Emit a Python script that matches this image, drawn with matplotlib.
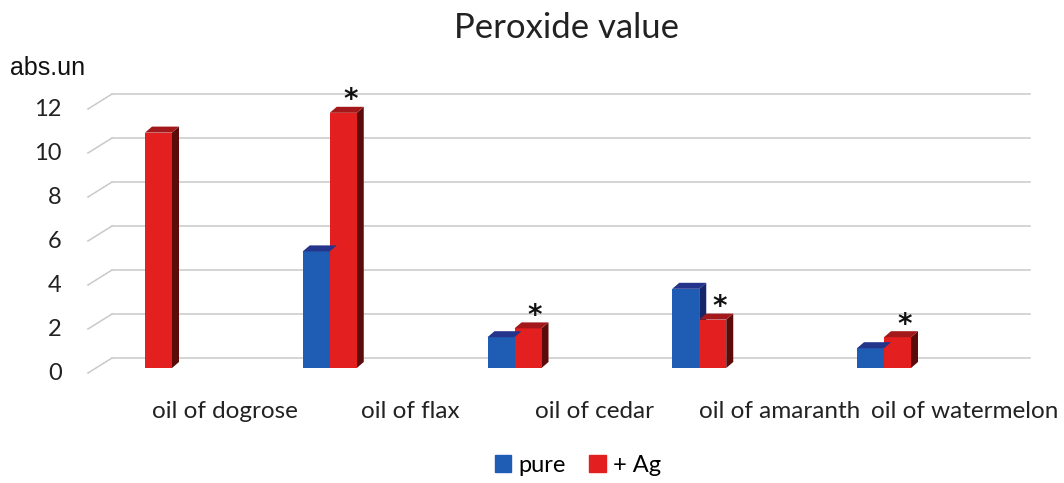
import matplotlib
matplotlib.use("Agg")
import matplotlib.pyplot as plt
import matplotlib.transforms as mtransforms
from matplotlib.patches import Polygon, Patch

categories = ["oil of dogrose", "oil of flax", "oil of cedar", "oil of amaranth", "oil of watermelon"]
pure = [0.0, 5.3, 1.4, 3.6, 0.9]
ag = [10.7, 11.6, 1.8, 2.2, 1.4]
star = [False, True, True, True, True]
yticks = [0, 2, 4, 6, 8, 10, 12]

plt.rcParams['font.family'] = ['Lato', 'DejaVu Sans']

fig = plt.figure(figsize=(10.64, 4.83), dpi=100)
W, H = 1064, 483
# front plane of the chart in pixels
left, right, y0, y12 = 95, 1013, 368, 104
ax = fig.add_axes([left / W, 1 - y0 / H, (right - left) / W, (y0 - y12) / H])
ax.set_xlim((left - 145) / 184.75, (right - 145) / 184.75)
ax.set_ylim(0, 12)
for s in ax.spines.values():
    s.set_visible(False)

# back-wall gridlines, shifted up/right for the 3d look
back = ax.transData + mtransforms.ScaledTranslation(17 / 100, 10 / 100, fig.dpi_scale_trans)
xl, xr = ax.get_xlim()
for v in yticks:
    ax.plot([xl, xr], [v, v], color="#c9c9c9", lw=1.1, transform=back, clip_on=False, zorder=0)
    p0 = ax.transData.transform((xl, v)) + [-7, -5]
    p1 = ax.transData.transform((xl, v)) + [17, 10]
    ax.plot([p0[0], p1[0]], [p0[1], p1[1]], color="#c9c9c9", lw=1.1,
            transform=None, clip_on=False, zorder=0)

ax.set_yticks(yticks)
ax.set_yticklabels([str(v) for v in yticks], fontsize=17, color="#222222")
ax.tick_params(axis="y", length=0, pad=24)
for lbl in ax.get_yticklabels():
    lbl.set_transform(lbl.get_transform() + mtransforms.ScaledTranslation(0, -4 / 100, fig.dpi_scale_trans))

x = list(range(len(categories)))
w = 27 / 184.75
ddx, ddy = 7 / 184.75, 6 / 22

def bar3d(xc, h, front, side, top):
    if h <= 0:
        return
    ax.bar(xc, h, width=w, color=front, zorder=3, linewidth=0)
    xa, xb = xc - w / 2, xc + w / 2
    ax.add_patch(Polygon([(xb, 0), (xb + ddx, ddy), (xb + ddx, h + ddy), (xb, h)],
                         closed=True, facecolor=side, edgecolor="none", zorder=2))
    ax.add_patch(Polygon([(xa, h), (xa + ddx, h + ddy), (xb + ddx, h + ddy), (xb, h)],
                         closed=True, facecolor=top, edgecolor="none", zorder=4))

for i in x:
    bar3d(i - w / 2, pure[i], "#1f5cb3", "#16266b", "#24348a")
    bar3d(i + w / 2, ag[i], "#e3201f", "#5c0b0b", "#a3181a")
    if star[i]:
        ax.annotate("*", (i + w / 2, ag[i]), xytext=(5, -1), textcoords="offset points",
                    ha="center", va="bottom", fontsize=20, fontweight="bold",
                    fontfamily="DejaVu Sans", color="#111111", zorder=5)

ax.set_xticks([i + 0.435 for i in x])
ax.set_xticklabels(categories, fontsize=17.5, color="#222222")
ax.tick_params(axis="x", length=0, pad=24)

fig.text(567 / W, 1 - 28 / H, "Peroxide value", ha="center", va="center", fontsize=25, color="#222222")
fig.text(10 / W, 1 - 68 / H, "abs.un", ha="left", va="center", fontsize=18,
         fontfamily="Liberation Sans", color="#111111")

handles = [Patch(color="#1f5cb3", label="pure"), Patch(color="#e3201f", label="+ Ag")]
fig.legend(handles=handles, loc="center", bbox_to_anchor=(578 / W, 1 - 465 / H), ncol=2,
           frameon=False, fontsize=17, handlelength=0.7, handleheight=0.7,
           handletextpad=0.3, columnspacing=1.0)

fig.savefig("out.png", dpi=100)
